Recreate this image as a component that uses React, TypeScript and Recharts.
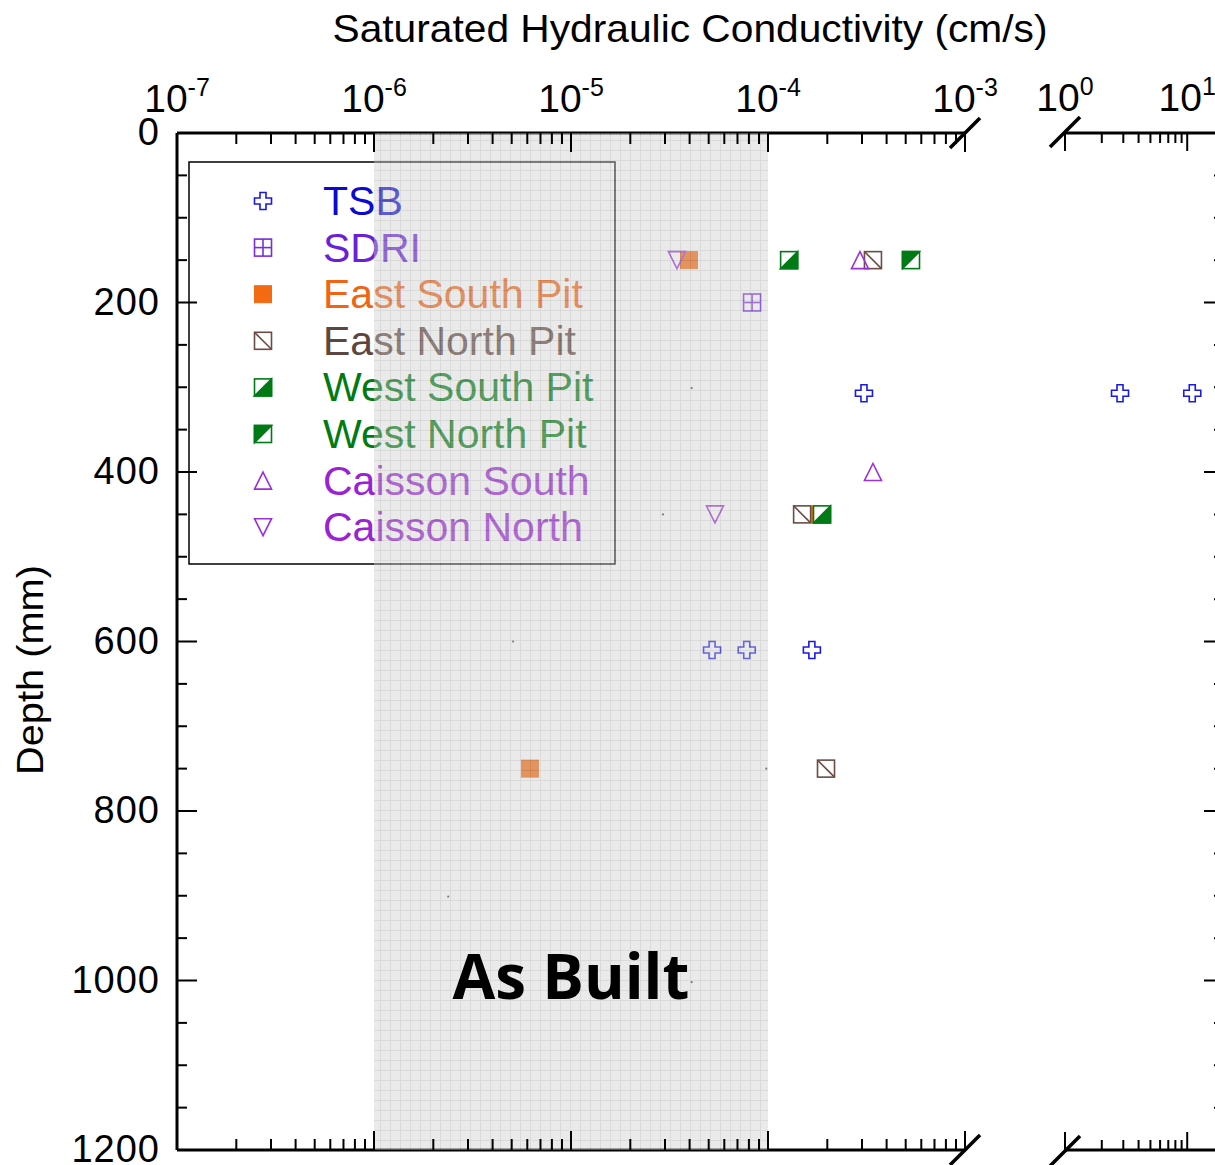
import React from 'react';
import {
  ScatterChart,
  Scatter,
  XAxis,
  YAxis,
  ReferenceArea,
  ReferenceLine,
  ReferenceDot,
} from 'recharts';

const FONT = '"Liberation Sans", Arial, Helvetica, sans-serif';

// ---- data: saturated hydraulic conductivity (cm/s) vs depth (mm) ----
const tsbK = [3.07e-4, 5.2e-5, 7.8e-5, 1.67e-4];
const tsbD = [307, 610, 610, 610];
const tsbHighK = [2.82, 11.0];
const tsbHighD = [307, 307];
const sdriK = [8.3e-5];
const sdriD = [200];
const eastSouthK = [3.97e-5, 1.84e-4, 6.19e-6];
const eastSouthD = [150, 450, 750];
const eastNorthK = [3.41e-4, 1.49e-4, 1.97e-4];
const eastNorthD = [150, 450, 750];
const westSouthK = [1.28e-4, 1.88e-4];
const westSouthD = [150, 450];
const westNorthK = [5.32e-4];
const westNorthD = [150];
const caissonSouthK = [2.93e-4, 3.41e-4];
const caissonSouthD = [150, 400];
const caissonNorthK = [3.45e-5, 5.38e-5];
const caissonNorthD = [150, 450];
const specksK = [4.1e-5, 2.93e-5, 5.08e-6, 9.8e-5, 2.38e-6, 4.1e-5];
const specksD = [301, 450, 600, 750, 901, 1002];

// ---- axis ticks ----
const lowDecades = [-7, -6, -5, -4];
const lowTicks = [
  ...lowDecades.flatMap((e) => [1, 2, 3, 4, 5, 6, 7, 8, 9].map((m) => m * Math.pow(10, e))),
  1e-3,
];
const highTicks = [1, 2, 3, 4, 5, 6, 7, 8, 9, 10, 20];
const depthTicks = [
  0, 50, 100, 150, 200, 250, 300, 350, 400, 450, 500, 550, 600, 650, 700, 750, 800, 850, 900,
  950, 1000, 1050, 1100, 1150, 1200,
];
const lowDomain = [1e-7, 1e-3];
const highDomain = [1, 20];
const depthDomain = [0, 1200];

const zip = (k: number[], d: number[]) => k.map((v, i) => ({ k: v, d: d[i] }));

type Kind = 'cross' | 'grid' | 'filled' | 'diag' | 'halfLR' | 'halfUL' | 'triUp' | 'triDown';

const SERIES: { name: string; kind: Kind; color: string; text: string; data: { k: number; d: number }[] }[] = [
  { name: 'TSB', kind: 'cross', color: '#1a1ae0', text: '#0a0ad2', data: zip(tsbK, tsbD) },
  { name: 'SDRI', kind: 'grid', color: '#7b2be2', text: '#6a1fd8', data: zip(sdriK, sdriD) },
  { name: 'East South Pit', kind: 'filled', color: '#f26a12', text: '#f06414', data: zip(eastSouthK, eastSouthD) },
  { name: 'East North Pit', kind: 'diag', color: '#6b4c44', text: '#5e4640', data: zip(eastNorthK, eastNorthD) },
  { name: 'West South Pit', kind: 'halfLR', color: '#007a14', text: '#007a12', data: zip(westSouthK, westSouthD) },
  { name: 'West North Pit', kind: 'halfUL', color: '#007a14', text: '#007a12', data: zip(westNorthK, westNorthD) },
  { name: 'Caisson South', kind: 'triUp', color: '#9b30d8', text: '#9a22d4', data: zip(caissonSouthK, caissonSouthD) },
  { name: 'Caisson North', kind: 'triDown', color: '#9b30d8', text: '#9a22d4', data: zip(caissonNorthK, caissonNorthD) },
];

const Marker = ({ kind, cx, cy, color }: { kind: Kind; cx: number; cy: number; color: string }) => {
  const h = 8.5;
  const sw = 1.6;
  if (cx == null || cy == null) return null;
  switch (kind) {
    case 'cross': {
      const a = 3;
      const pts = [
        [-a, -h], [a, -h], [a, -a], [h, -a], [h, a], [a, a], [a, h], [-a, h], [-a, a], [-h, a], [-h, -a], [-a, -a],
      ]
        .map(([x, y]) => `${cx + x},${cy + y}`)
        .join(' ');
      return <polygon points={pts} fill="none" stroke={color} strokeWidth={sw} />;
    }
    case 'grid':
      return (
        <g stroke={color} strokeWidth={sw} fill="none">
          <rect x={cx - h} y={cy - h} width={2 * h} height={2 * h} />
          <line x1={cx} y1={cy - h} x2={cx} y2={cy + h} />
          <line x1={cx - h} y1={cy} x2={cx + h} y2={cy} />
        </g>
      );
    case 'filled':
      return <rect x={cx - h} y={cy - h} width={2 * h} height={2 * h} fill={color} stroke={color} strokeWidth={1} />;
    case 'diag':
      return (
        <g stroke={color} strokeWidth={sw} fill="none">
          <rect x={cx - h} y={cy - h} width={2 * h} height={2 * h} />
          <line x1={cx - h} y1={cy - h} x2={cx + h} y2={cy + h} />
        </g>
      );
    case 'halfLR':
      return (
        <g stroke={color} strokeWidth={sw}>
          <rect x={cx - h} y={cy - h} width={2 * h} height={2 * h} fill="#fff" />
          <polygon points={`${cx + h},${cy - h} ${cx + h},${cy + h} ${cx - h},${cy + h}`} fill={color} />
        </g>
      );
    case 'halfUL':
      return (
        <g stroke={color} strokeWidth={sw}>
          <rect x={cx - h} y={cy - h} width={2 * h} height={2 * h} fill="#fff" />
          <polygon points={`${cx - h},${cy - h} ${cx + h},${cy - h} ${cx - h},${cy + h}`} fill={color} />
        </g>
      );
    case 'triUp':
      return (
        <polygon
          points={`${cx},${cy - h} ${cx + h},${cy + h} ${cx - h},${cy + h}`}
          fill="none"
          stroke={color}
          strokeWidth={sw}
        />
      );
    case 'triDown':
    default:
      return (
        <polygon
          points={`${cx - h},${cy - h} ${cx + h},${cy - h} ${cx},${cy + h}`}
          fill="none"
          stroke={color}
          strokeWidth={sw}
        />
      );
  }
};

const isDecade = (v: number) => Math.abs(Math.log10(v) - Math.round(Math.log10(v))) < 1e-6;

const makeXTick = (side: 'top' | 'bottom', breakAt: number) => (props: any) => {
  const { x, y, payload } = props;
  const v = payload.value as number;
  const major = isDecade(v);
  const len = major ? 19 : 11;
  const dir = side === 'top' ? 1 : -1;
  const exp = Math.round(Math.log10(v));
  return (
    <g>
      <line x1={x} y1={y} x2={x} y2={y + dir * len} stroke="#000" strokeWidth={2} />
      {major && side === 'top' && (
        <text x={x} y={y - 21} textAnchor="middle" fontSize={39} fontFamily={FONT} fill="#000">
          10
          <tspan fontSize={25} dy={-16}>
            {String(exp)}
          </tspan>
        </text>
      )}
      {Math.abs(v - breakAt) < breakAt * 1e-6 && (
        <line x1={x - 15} y1={y + 15} x2={x + 15} y2={y - 15} stroke="#000" strokeWidth={3.5} />
      )}
    </g>
  );
};

const LeftYTick = (props: any) => {
  const { x, y, payload } = props;
  const d = payload.value as number;
  const major = d % 200 === 0;
  return (
    <g>
      <line x1={x} y1={y} x2={x + (major ? 20 : 10)} y2={y} stroke="#000" strokeWidth={2} />
      {major && (
        <text x={x - 17} y={y + 12} textAnchor="end" fontSize={38} letterSpacing={1} fontFamily={FONT} fill="#000">
          {d}
        </text>
      )}
    </g>
  );
};

const RightYTick = (props: any) => {
  const { x, y, payload } = props;
  const major = (payload.value as number) % 200 === 0;
  return <line x1={x} y1={y} x2={x - (major ? 20 : 10)} y2={y} stroke="#000" strokeWidth={2} />;
};

const LegendBox = () => (
  <g>
    <rect x={189} y={162} width={426} height={402} fill="#fff" stroke="#000" strokeWidth={1.5} />
    {SERIES.map((s, i) => {
      const cy = 201 + i * 46.6;
      return (
        <g key={s.name}>
          <Marker kind={s.kind} cx={263} cy={cy} color={s.color} />
          <text x={323} y={cy + 14} fontSize={41} fontFamily={FONT} fill={s.text}>
            {s.name}
          </text>
        </g>
      );
    })}
  </g>
);

const axisCommon = {
  type: 'number' as const,
  dataKey: 'k',
  scale: 'log' as const,
  allowDataOverflow: true,
  interval: 0 as const,
  height: 1,
  tickSize: 0,
  tickMargin: 0,
  axisLine: false,
  tickLine: false,
};

export default function App() {
  return (
    <div
      style={{
        position: 'absolute',
        left: 0,
        top: 0,
        width: 1215,
        height: 1165,
        overflow: 'hidden',
        background: '#fff',
      }}
    >
      <ScatterChart width={1260} height={1165} margin={{ top: 131, left: 176, right: 35, bottom: 13 }}>
        <defs>
          <pattern id="asBuiltHatch" width={10} height={10} patternUnits="userSpaceOnUse">
            <rect width={10} height={10} fill="#cdcdcd" />
            <path d="M0 0.5 H10 M0.5 0 V10" stroke="#a6a6a6" strokeWidth={1} />
          </pattern>
        </defs>

        <text x={690} y={42} textAnchor="middle" fontSize={39} fontFamily={FONT} fill="#000" textLength={715} lengthAdjust="spacingAndGlyphs">
          Saturated Hydraulic Conductivity (cm/s)
        </text>
        <text
          transform="translate(43,670) rotate(-90)"
          textAnchor="middle"
          fontSize={37}
          fontFamily={FONT}
          fill="#000"
          textLength={210}
          lengthAdjust="spacingAndGlyphs"
        >
          Depth (mm)
        </text>

        <LegendBox />

        <XAxis
          {...axisCommon}
          xAxisId="L"
          orientation="top"
          domain={lowDomain}
          ticks={lowTicks}
          tick={makeXTick('top', 1e-3)}
          padding={{ left: 0, right: 259 }}
        />
        <XAxis
          {...axisCommon}
          xAxisId="R"
          orientation="top"
          domain={highDomain}
          ticks={highTicks}
          tick={makeXTick('top', 1)}
          padding={{ left: 888, right: 0 }}
        />
        <XAxis
          {...axisCommon}
          xAxisId="LB"
          orientation="bottom"
          domain={lowDomain}
          ticks={lowTicks}
          tick={makeXTick('bottom', 1e-3)}
          padding={{ left: 0, right: 259 }}
        />
        <XAxis
          {...axisCommon}
          xAxisId="RB"
          orientation="bottom"
          domain={highDomain}
          ticks={highTicks}
          tick={makeXTick('bottom', 1)}
          padding={{ left: 888, right: 0 }}
        />
        <YAxis
          yAxisId="L"
          type="number"
          dataKey="d"
          reversed
          domain={depthDomain}
          allowDataOverflow
          ticks={depthTicks}
          interval={0}
          width={1}
          tickSize={0}
          tickMargin={0}
          tickLine={false}
          axisLine={{ stroke: '#000', strokeWidth: 3 }}
          tick={LeftYTick}
        />
        <YAxis
          yAxisId="R"
          orientation="right"
          type="number"
          dataKey="d"
          reversed
          domain={depthDomain}
          allowDataOverflow
          ticks={depthTicks}
          interval={0}
          width={1}
          tickSize={0}
          tickMargin={0}
          tickLine={false}
          axisLine={{ stroke: '#000', strokeWidth: 3 }}
          tick={RightYTick}
        />

        <ReferenceLine
          xAxisId="L"
          yAxisId="L"
          segment={[{ x: lowDomain[0], y: depthDomain[0] }, { x: lowDomain[1], y: depthDomain[0] }]}
          stroke="#000"
          strokeWidth={3}
          ifOverflow="visible"
        />
        <ReferenceLine
          xAxisId="L"
          yAxisId="L"
          segment={[{ x: lowDomain[0], y: depthDomain[1] }, { x: lowDomain[1], y: depthDomain[1] }]}
          stroke="#000"
          strokeWidth={3}
          ifOverflow="visible"
        />
        <ReferenceLine
          xAxisId="R"
          yAxisId="L"
          segment={[{ x: highDomain[0], y: depthDomain[0] }, { x: highDomain[1], y: depthDomain[0] }]}
          stroke="#000"
          strokeWidth={3}
          ifOverflow="visible"
        />
        <ReferenceLine
          xAxisId="R"
          yAxisId="L"
          segment={[{ x: highDomain[0], y: depthDomain[1] }, { x: highDomain[1], y: depthDomain[1] }]}
          stroke="#000"
          strokeWidth={3}
          ifOverflow="visible"
        />

        <Scatter
          name="specks"
          xAxisId="L"
          yAxisId="L"
          data={zip(specksK, specksD)}
          isAnimationActive={false}
          legendType="none"
          shape={(p: any) => <circle cx={p.cx} cy={p.cy} r={1.1} fill="#444" />}
        />
        {SERIES.map((s) => (
          <Scatter
            key={s.name}
            name={s.name}
            xAxisId="L"
            yAxisId="L"
            data={s.data}
            isAnimationActive={false}
            shape={(p: any) => <Marker kind={s.kind} cx={p.cx} cy={p.cy} color={s.color} />}
          />
        ))}
        <Scatter
          name="TSB (high)"
          xAxisId="R"
          yAxisId="L"
          data={zip(tsbHighK, tsbHighD)}
          isAnimationActive={false}
          legendType="none"
          shape={(p: any) => <Marker kind="cross" cx={p.cx} cy={p.cy} color={SERIES[0].color} />}
        />

        <ReferenceArea
          xAxisId="L"
          yAxisId="L"
          x1={1e-6}
          x2={1e-4}
          y1={depthDomain[0]}
          y2={depthDomain[1]}
          fill="url(#asBuiltHatch)"
          fillOpacity={0.42}
          stroke="none"
          ifOverflow="visible"
          zIndex={1500}
        />
        <ReferenceDot
          xAxisId="L"
          yAxisId="L"
          x={1e-5}
          y={1022}
          r={0}
          ifOverflow="visible"
          zIndex={1600}
          shape={(p: any) => (
            <text
              x={p.cx}
              y={p.cy}
              textAnchor="middle"
              fontSize={62}
              fontWeight={700}
              fontFamily='"Open Sans", "Liberation Sans", sans-serif'
              fill="#000"
            >
              As Built
            </text>
          )}
        />
      </ScatterChart>
    </div>
  );
}
